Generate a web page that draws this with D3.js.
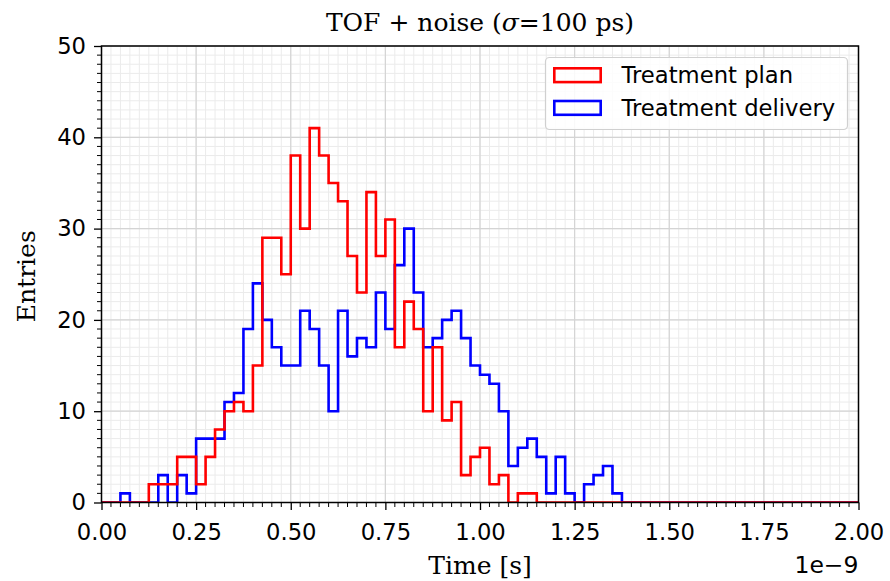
<!DOCTYPE html>
<html>
<head>
<meta charset="utf-8">
<script src="https://cdn.jsdelivr.net/npm/d3@7"></script>
<style>
  html, body { margin: 0; padding: 0; background: #fff; }
  svg { display: block; }
</style>
</head>
<body>
<svg id="chart" width="890" height="581"></svg>
<script>
// Histogram bins: 80 bins of 0.025e-9 s from 0 to 2e-9 s (axis in units of 1e-9 s)
const binStart = 0;
const binWidth = 0.025;

// Entries per bin
const planCounts = [
  0, 0, 0, 0, 0, 2, 2, 2, 5, 5,
  2, 5, 8, 10, 11, 10, 15, 29, 29, 25,
  38, 30, 41, 38, 35, 33, 27, 23, 34, 27,
  31, 17, 22, 19, 10, 17, 9, 11, 3, 5,
  6, 2, 3, 0, 1, 1, 0, 0, 0, 0,
  0, 0, 0, 0, 0, 0, 0, 0, 0, 0,
  0, 0, 0, 0, 0, 0, 0, 0, 0, 0,
  0, 0, 0, 0, 0, 0, 0, 0, 0, 0
];
const deliveryCounts = [
  0, 0, 1, 0, 0, 0, 3, 0, 3, 1,
  7, 7, 7, 11, 12, 19, 24, 20, 17, 15,
  15, 21, 19, 15, 10, 21, 16, 18, 17, 23,
  19, 26, 30, 23, 17, 18, 20, 21, 18, 15,
  14, 13, 10, 4, 6, 7, 5, 1, 5, 1,
  0, 2, 3, 4, 1, 0, 0, 0, 0, 0,
  0, 0, 0, 0, 0, 0, 0, 0, 0, 0,
  0, 0, 0, 0, 0, 0, 0, 0, 0, 0
];

const seriesNames = ["Treatment plan", "Treatment delivery"];
const seriesColors = ["#ff0000", "#0000ff"];

const xTicks = [0, 0.25, 0.5, 0.75, 1.0, 1.25, 1.5, 1.75, 2.0];
const yTicks = [0, 10, 20, 30, 40, 50];
const xDomain = [0, 2];
const yDomain = [0, 50];

const titleText = "TOF + noise (";
const xLabel = "Time [s]";
const yLabel = "Entries";
const offsetLabel = "1e\u22129";

// Layout
const plot = { left: 101.5, right: 858.5, top: 46, bottom: 502.5 };

const svg = d3.select("#chart");
const x = d3.scaleLinear().domain(xDomain).range([plot.left, plot.right]);
const y = d3.scaleLinear().domain(yDomain).range([plot.bottom, plot.top]);

const sans = "'DejaVu Sans', sans-serif";
const serif = "'DejaVu Serif', serif";
const labelSize = 25;
const tickSize = 22.7;

// Clip region for the plotting area
svg.append("defs").append("clipPath").attr("id", "plotClip")
  .append("rect")
  .attr("x", plot.left).attr("y", plot.top)
  .attr("width", plot.right - plot.left).attr("height", plot.bottom - plot.top);

// Grid: minor then major
const xMinor = d3.range(0, 81).map(i => i * 0.025);
const yMinor = d3.range(0, 51);
const grid = svg.append("g");
grid.selectAll("line.xm").data(xMinor).join("line")
  .attr("x1", d => x(d)).attr("x2", d => x(d))
  .attr("y1", plot.top).attr("y2", plot.bottom)
  .attr("stroke", "#ebebeb").attr("stroke-width", 1);
grid.selectAll("line.ym").data(yMinor).join("line")
  .attr("y1", d => y(d)).attr("y2", d => y(d))
  .attr("x1", plot.left).attr("x2", plot.right)
  .attr("stroke", "#ebebeb").attr("stroke-width", 1);
grid.selectAll("line.xM").data(xTicks).join("line")
  .attr("x1", d => x(d)).attr("x2", d => x(d))
  .attr("y1", plot.top).attr("y2", plot.bottom)
  .attr("stroke", "#d4d4d4").attr("stroke-width", 1.2);
grid.selectAll("line.yM").data(yTicks).join("line")
  .attr("y1", d => y(d)).attr("y2", d => y(d))
  .attr("x1", plot.left).attr("x2", plot.right)
  .attr("stroke", "#d4d4d4").attr("stroke-width", 1.2);

// Step outline of a histogram
function stepPoints(counts) {
  const pts = [[binStart, 0]];
  counts.forEach((c, i) => {
    const x0 = binStart + i * binWidth;
    pts.push([x0, c], [x0 + binWidth, c]);
  });
  pts.push([binStart + counts.length * binWidth, 0]);
  return pts;
}
const line = d3.line().x(d => x(d[0])).y(d => y(d[1]));

const hists = svg.append("g").attr("clip-path", "url(#plotClip)");
[[deliveryCounts, seriesColors[1]], [planCounts, seriesColors[0]]].forEach(([counts, color]) => {
  hists.append("path")
    .attr("d", line(stepPoints(counts)))
    .attr("fill", "none")
    .attr("stroke", color)
    .attr("stroke-width", 2.6)
    .attr("stroke-linejoin", "miter");
});

// Axes
const xAxis = d3.axisBottom(x).tickValues(xTicks).tickFormat(d3.format(".2f"))
  .tickSize(7.5).tickPadding(6);
const yAxis = d3.axisLeft(y).tickValues(yTicks).tickFormat(d3.format("d"))
  .tickSize(7.5).tickPadding(8);

const gx = svg.append("g").attr("transform", `translate(0,${plot.bottom})`).call(xAxis);
const gy = svg.append("g").attr("transform", `translate(${plot.left},0)`).call(yAxis);
[gx, gy].forEach(g => {
  g.select(".domain").remove();
  g.selectAll(".tick line").attr("stroke", "#000").attr("stroke-width", 1.3);
  g.selectAll(".tick text").attr("font-family", sans).attr("font-size", tickSize).attr("fill", "#000");
});
gx.selectAll(".tick text").attr("dy", null).attr("y", 37.8).attr("dominant-baseline", "auto");

// Minor ticks
svg.append("g").selectAll("line").data(xMinor.filter((d, i) => i % 10 !== 0)).join("line")
  .attr("x1", d => x(d)).attr("x2", d => x(d))
  .attr("y1", plot.bottom).attr("y2", plot.bottom + 4.5)
  .attr("stroke", "#000").attr("stroke-width", 1);
svg.append("g").selectAll("line").data(yMinor.filter(d => d % 10 !== 0)).join("line")
  .attr("y1", d => y(d)).attr("y2", d => y(d))
  .attr("x1", plot.left).attr("x2", plot.left - 4.5)
  .attr("stroke", "#000").attr("stroke-width", 1);

// Frame
svg.append("rect")
  .attr("x", plot.left).attr("y", plot.top)
  .attr("width", plot.right - plot.left).attr("height", plot.bottom - plot.top)
  .attr("fill", "none").attr("stroke", "#000").attr("stroke-width", 1.5);

// Title
const title = svg.append("text")
  .attr("x", (plot.left + plot.right) / 2).attr("y", 30.5)
  .attr("text-anchor", "middle")
  .attr("font-family", serif).attr("font-size", labelSize).attr("fill", "#000");
title.append("tspan").text(titleText);
title.append("tspan").attr("font-style", "italic").text("\u03c3");
title.append("tspan").text("=100 ps)");

// Axis labels
svg.append("text")
  .attr("x", (plot.left + plot.right) / 2).attr("y", 573.5)
  .attr("text-anchor", "middle")
  .attr("font-family", serif).attr("font-size", labelSize).attr("fill", "#000")
  .text(xLabel);
svg.append("text")
  .attr("transform", `translate(35,${(plot.top + plot.bottom) / 2 + 2}) rotate(-90)`)
  .attr("text-anchor", "middle")
  .attr("font-family", serif).attr("font-size", labelSize).attr("fill", "#000")
  .text(yLabel);

// Scale offset
svg.append("text")
  .attr("x", plot.right).attr("y", 572.5)
  .attr("text-anchor", "end")
  .attr("font-family", sans).attr("font-size", 23.5).attr("fill", "#000")
  .text(offsetLabel);

// Legend
const legend = svg.append("g");
legend.append("rect")
  .attr("x", 545.5).attr("y", 57.5).attr("width", 302).attr("height", 72).attr("rx", 4)
  .attr("fill", "#fff").attr("fill-opacity", 0.85)
  .attr("stroke", "#d0d0d0").attr("stroke-width", 1.2);
seriesNames.forEach((name, i) => {
  const yb = 83.3 + i * 32.7;
  legend.append("rect")
    .attr("x", 554.3).attr("y", yb - 15).attr("width", 46.4).attr("height", 13.8)
    .attr("fill", "none").attr("stroke", seriesColors[i]).attr("stroke-width", 2.6);
  legend.append("text")
    .attr("x", 621.5).attr("y", yb)
    .attr("font-family", sans).attr("font-size", tickSize).attr("fill", "#000")
    .text(name);
});
</script>
</body>
</html>
